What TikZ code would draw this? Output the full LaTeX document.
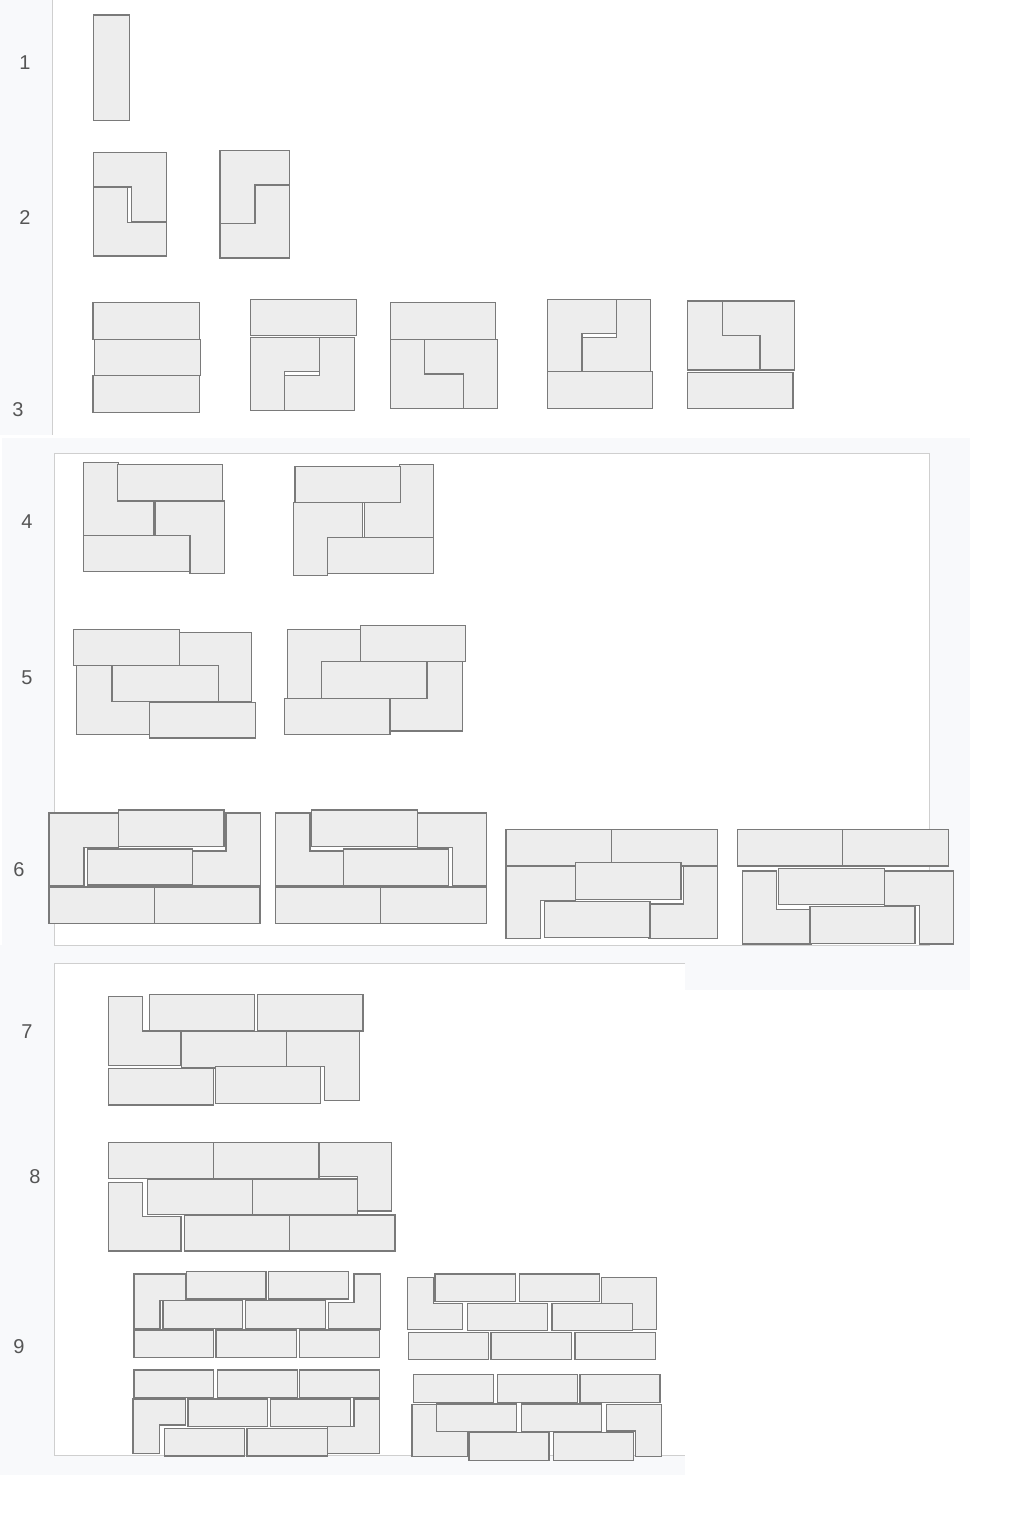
\documentclass[tikz,border=0pt]{standalone}
\usepackage{fontspec}
\setmainfont{Liberation Sans}
\usepackage{tikz}
\definecolor{tilefill}{HTML}{EDEDED}
\definecolor{tileedge}{HTML}{7A7A7A}
\definecolor{panelbg}{HTML}{F8F9FB}
\definecolor{panelline}{HTML}{CFCFCF}
\definecolor{labelgray}{HTML}{555555}
\tikzstyle{tile}=[draw=tileedge, fill=tilefill, line width=1.1pt]
\tikzstyle{panel}=[fill=white, draw=panelline, line width=1pt]
\tikzstyle{rowlabel}=[text=labelgray, inner sep=0pt,
    font=\fontsize{20}{24}\selectfont]
\def\brick(#1,#2)(#3,#4){\draw[tile] (#1,#2) rectangle (#3,#4);}
\def\ltile(#1)(#2)(#3)(#4)(#5)(#6){\draw[tile] (#1)--(#2)--(#3)--(#4)--(#5)--(#6)--cycle;}

\begin{document}
\begin{tikzpicture}[x=1pt, y=-1pt]
    \useasboundingbox (0,0) rectangle (1018,1520);
    % panels
    \fill[panelbg] (0,0) rectangle (52,435);
    \draw[panelline, line width=1pt] (52,0) -- (52,435);
    \fill[panelbg] (2,438) rectangle (970,990);
    \fill[panelbg] (0,945) rectangle (685,1475);
    \draw[panel] (54.3,453.3) rectangle (929.5,945);
    \fill[white] (54.3,963.3) rectangle (685,1455);
    \draw[panelline, line width=1pt] (685,963.3) -- (54.3,963.3) -- (54.3,1455) -- (685,1455);
    % row labels
    \node[rowlabel] (row1) at (25,63) {1};
    \node[rowlabel] (row2) at (25,218) {2};
    \node[rowlabel] (row3) at (18,410) {3};
    \node[rowlabel] (row4) at (27,522) {4};
    \node[rowlabel] (row5) at (27,678) {5};
    \node[rowlabel] (row6) at (19,870) {6};
    \node[rowlabel] (row7) at (27,1032) {7};
    \node[rowlabel] (row8) at (35,1177) {8};
    \node[rowlabel] (row9) at (19,1347) {9};
    % 1
    \brick(93.3,15)(129.7,120.3)
    % 2
    \ltile(93.3,152.7)(166.3,152.7)(166.3,221.3)(131.3,221.3)(131.3,187)(93.3,187)
    \ltile(93.3,187.7)(127.7,187.7)(127.7,222.3)(166.3,222.3)(166.3,256)(93.3,256)
    \ltile(220,150.7)(289.3,150.7)(289.3,185)(255,185)(255,223.3)(220,223.3)
    \ltile(220,223.3)(255,223.3)(255,185)(289.3,185)(289.3,258)(220,258)
    % 3
    \brick(93,302.7)(199.1,339.3)
    \brick(94.9,339.3)(200.6,375.7)
    \brick(93,375.7)(199.1,412.3)
    \brick(250.5,299.3)(356.2,335.3)
    \ltile(250.5,337.3)(319.3,337.3)(319.3,371.7)(284.4,371.7)(284.4,410.3)(250.5,410.3)
    \ltile(319.3,337.3)(354.2,337.3)(354.2,410.3)(284.4,410.3)(284.4,375.7)(319.3,375.7)
    \brick(390.6,302.7)(495.3,339.3)
    \ltile(390.6,339.3)(424.5,339.3)(424.5,374)(463.3,374)(463.3,408.3)(390.6,408.3)
    \ltile(424.5,339.3)(497.7,339.3)(497.7,408.3)(463.3,408.3)(463.3,374)(424.5,374)
    \ltile(547.6,299.3)(616.5,299.3)(616.5,333.3)(582,333.3)(582,371.7)(547.6,371.7)
    \ltile(616.5,299.3)(650.9,299.3)(650.9,371.7)(582,371.7)(582,337.3)(616.5,337.3)
    \brick(547.6,371.7)(652.8,408.3)
    \ltile(687.7,301)(722.1,301)(722.1,335.7)(760,335.7)(760,370)(687.7,370)
    \ltile(722.1,301)(794.4,301)(794.4,370)(760,370)(760,335.7)(722.1,335.7)
    \brick(687.7,372.3)(793,408.3)
    % 4
    \ltile(83.7,462.3)(118.3,462.3)(118.3,501)(153.3,501)(153.3,535.3)(83.7,535.3)
    \brick(117.3,464.3)(222.7,501)
    \ltile(155,501)(224.3,501)(224.3,573.3)(190,573.3)(190,535.3)(155,535.3)
    \brick(83.7,535.3)(190,571.7)
    \ltile(399.3,464.3)(433.7,464.3)(433.7,537.3)(364.3,537.3)(364.3,502.7)(399.3,502.7)
    \brick(295,466.3)(400.3,502.3)
    \ltile(293.3,502.7)(362.3,502.7)(362.3,537.3)(327.7,537.3)(327.7,575.3)(293.3,575.3)
    \brick(327.7,537.3)(433.7,573.3)
    % 5
    \ltile(179.3,632.7)(251.7,632.7)(251.7,701.7)(218.3,701.7)(218.3,665.7)(179.3,665.7)
    \brick(73.3,629.3)(179.3,665.7)
    \ltile(76.7,665.7)(111.7,665.7)(111.7,701.7)(150,701.7)(150,734.7)(76.7,734.7)
    \brick(112.7,665.7)(218.3,701.7)
    \brick(149.7,702.3)(255.3,738)
    \ltile(287.3,629.3)(360.3,629.3)(360.3,661.7)(321.7,661.7)(321.7,698.3)(287.3,698.3)
    \brick(360.3,625.7)(465.7,661.7)
    \ltile(427.7,661.7)(462.3,661.7)(462.3,731)(390,731)(390,698.3)(427.7,698.3)
    \brick(321.7,661.7)(426.7,698.3)
    \brick(284.3,698.3)(390,734.7)
    % 6
    \ltile(49,813)(118.3,813)(118.3,847.3)(84,847.3)(84,885.7)(49,885.7)
    \brick(118.3,810)(224,846.3)
    \ltile(226,813)(260.7,813)(260.7,885.7)(191.7,885.7)(191.7,851)(226,851)
    \brick(87.3,849)(192.7,885)
    \brick(49,887)(154.3,923.7)
    \brick(154.3,887)(260,923.7)
    \ltile(275.3,813)(310,813)(310,851)(344.3,851)(344.3,885.7)(275.3,885.7)
    \brick(311.7,810)(417.3,846.3)
    \ltile(417.3,813)(486.7,813)(486.7,885.7)(452.3,885.7)(452.3,847.3)(417.3,847.3)
    \brick(343.3,849)(448.7,885.7)
    \brick(275.3,887)(380.7,923.7)
    \brick(380.7,887)(486.3,923.7)
    \brick(506,829.3)(611.7,866)
    \brick(611.7,829.3)(717.3,866)
    \ltile(506,866)(575.3,866)(575.3,900.3)(540.7,900.3)(540.7,938.3)(506,938.3)
    \brick(575.3,862.7)(681,899.3)
    \ltile(683.3,866)(717.7,866)(717.7,938.3)(648.7,938.3)(648.7,904)(683.3,904)
    \brick(544.3,901.7)(650,937.7)
    \brick(737.3,829.3)(842.7,866)
    \brick(842.7,829.3)(948.3,866)
    \ltile(742.3,871)(776.7,871)(776.7,909.3)(811,909.3)(811,944)(742.3,944)
    \brick(778.7,868.3)(884.3,904.7)
    \ltile(884.3,871)(953.7,871)(953.7,944)(919.3,944)(919.3,905.7)(884.3,905.7)
    \brick(810,906.7)(915,943.3)
    % 7
    \ltile(108.3,996.7)(142.7,996.7)(142.7,1031)(181,1031)(181,1065.7)(108.3,1065.7)
    \brick(149.3,994.7)(254.3,1031)
    \brick(257.3,994.7)(363,1031)
    \brick(181.3,1031.7)(286.3,1068)
    \ltile(286.3,1031.7)(359.3,1031.7)(359.3,1100.7)(324.3,1100.7)(324.3,1066.3)(286.3,1066.3)
    \brick(108.3,1068.3)(213.7,1105)
    \brick(215.3,1066.7)(320.7,1103.3)
    % 8
    \brick(108.3,1142.3)(213.3,1178.3)
    \brick(213.3,1142.3)(319,1178.3)
    \ltile(319,1142.3)(391.7,1142.3)(391.7,1211)(357.7,1211)(357.7,1176.7)(319,1176.7)
    \brick(147.3,1179)(252.3,1214.7)
    \brick(252.3,1179)(357.7,1214.7)
    \ltile(108.3,1182.3)(142.7,1182.3)(142.7,1216.7)(181,1216.7)(181,1251)(108.3,1251)
    \brick(184.3,1215)(289.3,1251)
    \brick(289.3,1215)(395,1251)
    % 9
    \ltile(134,1274)(186,1274)(186,1300.7)(160,1300.7)(160,1329)(134,1329)
    \brick(186.7,1271.7)(266,1299)
    \brick(268.7,1271.7)(348.7,1299)
    \ltile(354,1274)(380.3,1274)(380.3,1329)(328.3,1329)(328.3,1302.3)(354,1302.3)
    \brick(163,1300.7)(242.7,1328.3)
    \brick(245.7,1300.7)(325.3,1328.3)
    \brick(134,1330)(213.7,1357.7)
    \brick(216,1330)(296.3,1357.7)
    \brick(299.7,1330)(379.7,1357.7)
    \brick(134,1370)(213.7,1397.3)
    \brick(217.3,1370)(297.3,1397.3)
    \brick(299.7,1370)(379.7,1397.3)
    \ltile(133,1399)(185.3,1399)(185.3,1425)(159.3,1425)(159.3,1453.3)(133,1453.3)
    \brick(188,1399)(267.7,1426.7)
    \brick(270.3,1399)(350.3,1426.7)
    \ltile(354,1399)(379.7,1399)(379.7,1453.3)(327.3,1453.3)(327.3,1426.7)(354,1426.7)
    \brick(164.3,1428.3)(244.3,1456)
    \brick(247,1428.3)(327.3,1456)
    \ltile(407.3,1277.3)(433.3,1277.3)(433.3,1303.3)(462.7,1303.3)(462.7,1329.3)(407.3,1329.3)
    \brick(435,1274)(515.3,1301.3)
    \brick(519.7,1274)(599.7,1301.3)
    \ltile(601.3,1277.3)(656.7,1277.3)(656.7,1329.3)(632.3,1329.3)(632.3,1303.3)(601.3,1303.3)
    \brick(467.3,1303.3)(547.7,1330.3)
    \brick(552,1303.3)(632.3,1330.3)
    \brick(408.7,1332.3)(488.7,1359.7)
    \brick(491,1332.3)(571.3,1359.7)
    \brick(575,1332.3)(655.3,1359.7)
    \brick(413.7,1374.7)(493.7,1402.3)
    \brick(497.7,1374.7)(577.7,1402.3)
    \brick(580,1374.7)(660,1402.3)
    \ltile(412,1404.3)(436.7,1404.3)(436.7,1431.7)(467.3,1431.7)(467.3,1456.7)(412,1456.7)
    \brick(436.7,1404)(516.7,1431.7)
    \brick(521.7,1404)(601.3,1431.7)
    \ltile(606.3,1404.3)(661.7,1404.3)(661.7,1456.7)(635.7,1456.7)(635.7,1431)(606.3,1431)
    \brick(469,1432.7)(549,1460.7)
    \brick(553.3,1432.7)(633.3,1460.7)
\end{tikzpicture}
\end{document}
